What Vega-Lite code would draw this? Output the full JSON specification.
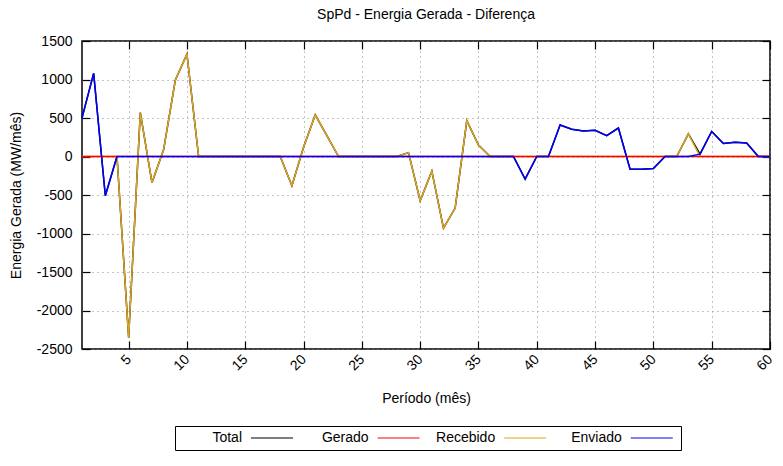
{
  "$schema": "https://vega.github.io/schema/vega-lite/v6.json",
  "width": 688,
  "height": 308,
  "autosize": {"type": "none"},
  "padding": {"left": 82, "top": 41, "right": 13, "bottom": 117},
  "background": "white",
  "config": {
    "font": "Liberation Sans",
    "view": {"stroke": "black", "strokeWidth": 1.5},
    "axis": {"labelFont": "Liberation Sans", "titleFont": "Liberation Sans", "labelFontSize": 14, "titleFontSize": 14, "titleFontWeight": "normal", "labelColor": "black", "titleColor": "black", "domain": false}
  },
  "title": {"text": "SpPd - Energia Gerada - Diferença", "fontSize": 14, "fontWeight": "normal", "font": "Liberation Sans", "frame": "group", "anchor": "middle", "offset": 12, "color": "black"},
  "data": {"values": [
    {"p": 1, "Total": 500, "Gerado": 0, "Recebido": 0, "Enviado": 500},
    {"p": 2, "Total": 1080, "Gerado": 0, "Recebido": 0, "Enviado": 1080},
    {"p": 3, "Total": -510, "Gerado": 0, "Recebido": 0, "Enviado": -510},
    {"p": 4, "Total": 0, "Gerado": 0, "Recebido": 0, "Enviado": 0},
    {"p": 5, "Total": -2350, "Gerado": 0, "Recebido": -2350, "Enviado": 0},
    {"p": 6, "Total": 570, "Gerado": 0, "Recebido": 570, "Enviado": 0},
    {"p": 7, "Total": -340, "Gerado": 0, "Recebido": -340, "Enviado": 0},
    {"p": 8, "Total": 90, "Gerado": 0, "Recebido": 90, "Enviado": 0},
    {"p": 9, "Total": 990, "Gerado": 0, "Recebido": 990, "Enviado": 0},
    {"p": 10, "Total": 1330, "Gerado": 0, "Recebido": 1330, "Enviado": 0},
    {"p": 11, "Total": 0, "Gerado": 0, "Recebido": 0, "Enviado": 0},
    {"p": 12, "Total": 0, "Gerado": 0, "Recebido": 0, "Enviado": 0},
    {"p": 13, "Total": 0, "Gerado": 0, "Recebido": 0, "Enviado": 0},
    {"p": 14, "Total": 0, "Gerado": 0, "Recebido": 0, "Enviado": 0},
    {"p": 15, "Total": 0, "Gerado": 0, "Recebido": 0, "Enviado": 0},
    {"p": 16, "Total": 0, "Gerado": 0, "Recebido": 0, "Enviado": 0},
    {"p": 17, "Total": 0, "Gerado": 0, "Recebido": 0, "Enviado": 0},
    {"p": 18, "Total": 0, "Gerado": 0, "Recebido": 0, "Enviado": 0},
    {"p": 19, "Total": -380, "Gerado": 0, "Recebido": -380, "Enviado": 0},
    {"p": 20, "Total": 120, "Gerado": 0, "Recebido": 120, "Enviado": 0},
    {"p": 21, "Total": 540, "Gerado": 0, "Recebido": 540, "Enviado": 0},
    {"p": 22, "Total": 270, "Gerado": 0, "Recebido": 270, "Enviado": 0},
    {"p": 23, "Total": 0, "Gerado": 0, "Recebido": 0, "Enviado": 0},
    {"p": 24, "Total": 0, "Gerado": 0, "Recebido": 0, "Enviado": 0},
    {"p": 25, "Total": 0, "Gerado": 0, "Recebido": 0, "Enviado": 0},
    {"p": 26, "Total": 0, "Gerado": 0, "Recebido": 0, "Enviado": 0},
    {"p": 27, "Total": 0, "Gerado": 0, "Recebido": 0, "Enviado": 0},
    {"p": 28, "Total": 0, "Gerado": 0, "Recebido": 0, "Enviado": 0},
    {"p": 29, "Total": 50, "Gerado": 0, "Recebido": 50, "Enviado": 0},
    {"p": 30, "Total": -575, "Gerado": 0, "Recebido": -575, "Enviado": 0},
    {"p": 31, "Total": -190, "Gerado": 0, "Recebido": -190, "Enviado": 0},
    {"p": 32, "Total": -930, "Gerado": 0, "Recebido": -930, "Enviado": 0},
    {"p": 33, "Total": -670, "Gerado": 0, "Recebido": -670, "Enviado": 0},
    {"p": 34, "Total": 465, "Gerado": 0, "Recebido": 465, "Enviado": 0},
    {"p": 35, "Total": 150, "Gerado": 0, "Recebido": 150, "Enviado": 0},
    {"p": 36, "Total": 0, "Gerado": 0, "Recebido": 0, "Enviado": 0},
    {"p": 37, "Total": 0, "Gerado": 0, "Recebido": 0, "Enviado": 0},
    {"p": 38, "Total": 0, "Gerado": 0, "Recebido": 0, "Enviado": 0},
    {"p": 39, "Total": -295, "Gerado": 0, "Recebido": 0, "Enviado": -295},
    {"p": 40, "Total": 0, "Gerado": 0, "Recebido": 0, "Enviado": 0},
    {"p": 41, "Total": 0, "Gerado": 0, "Recebido": 0, "Enviado": 0},
    {"p": 42, "Total": 410, "Gerado": 0, "Recebido": 0, "Enviado": 410},
    {"p": 43, "Total": 355, "Gerado": 0, "Recebido": 0, "Enviado": 355},
    {"p": 44, "Total": 330, "Gerado": 0, "Recebido": 0, "Enviado": 330},
    {"p": 45, "Total": 340, "Gerado": 0, "Recebido": 0, "Enviado": 340},
    {"p": 46, "Total": 270, "Gerado": 0, "Recebido": 0, "Enviado": 270},
    {"p": 47, "Total": 370, "Gerado": 0, "Recebido": 0, "Enviado": 370},
    {"p": 48, "Total": -165, "Gerado": 0, "Recebido": 0, "Enviado": -165},
    {"p": 49, "Total": -165, "Gerado": 0, "Recebido": 0, "Enviado": -165},
    {"p": 50, "Total": -155, "Gerado": 0, "Recebido": 0, "Enviado": -155},
    {"p": 51, "Total": 0, "Gerado": 0, "Recebido": 0, "Enviado": 0},
    {"p": 52, "Total": 0, "Gerado": 0, "Recebido": 0, "Enviado": 0},
    {"p": 53, "Total": 295, "Gerado": 0, "Recebido": 295, "Enviado": 0},
    {"p": 54, "Total": 30, "Gerado": 0, "Recebido": 0, "Enviado": 30},
    {"p": 55, "Total": 325, "Gerado": 0, "Recebido": 0, "Enviado": 325},
    {"p": 56, "Total": 170, "Gerado": 0, "Recebido": 0, "Enviado": 170},
    {"p": 57, "Total": 185, "Gerado": 0, "Recebido": 0, "Enviado": 185},
    {"p": 58, "Total": 175, "Gerado": 0, "Recebido": 0, "Enviado": 175},
    {"p": 59, "Total": 0, "Gerado": 0, "Recebido": 0, "Enviado": 0},
    {"p": 60, "Total": 0, "Gerado": 0, "Recebido": 0, "Enviado": 0}
  ]},
  "transform": [
    {"fold": ["Total", "Gerado", "Recebido", "Enviado"], "as": ["serie", "v"]}
  ],
  "encoding": {
    "color": {
      "field": "serie", "type": "nominal",
      "scale": {"domain": ["Total", "Gerado", "Recebido", "Enviado"], "range": ["#000000", "#ff0000", "#daa520", "#0000ff"]},
      "legend": {
        "title": null, "orient": "none", "legendX": 93, "legendY": 385,
        "direction": "horizontal", "columns": 4, "symbolType": "M-10.5,0H10.5", "symbolSize": 16, "symbolStrokeWidth": 1.2,
        "symbolOffset": 85,
        "labelAlign": "right", "labelOffset": -37, "labelFontSize": 14, "labelFont": "Liberation Sans", "labelColor": "black",
        "strokeColor": "black", "padding": 5, "columnPadding": 10.6, "gridAlign": "all"
      }
    }
  },
  "layer": [
    {
      "transform": [{"filter": "datum.serie === 'Total'"}],
      "mark": {"type": "line", "strokeWidth": 1.5},
      "encoding": {
        "x": {"field": "p", "type": "quantitative", "scale": {"domain": [1, 60], "nice": false, "zero": false},
              "axis": {"title": "Período (mês)", "values": [5,10,15,20,25,30,35,40,45,50,55,60], "labelAngle": -45, "labelAlign": "right", "labelBaseline": "middle", "tickSize": -8, "tickColor": "black", "tickWidth": 1.2, "labelPadding": 16, "grid": true, "gridColor": "#888888", "gridDash": [1, 4], "gridWidth": 1, "titlePadding": 19}},
        "y": {"field": "v", "type": "quantitative", "scale": {"domain": [-2500, 1500], "nice": false},
              "axis": {"title": "Energia Gerada (MW/mês)", "labelExpr": "'' + datum.value", "values": [-2500,-2000,-1500,-1000,-500,0,500,1000,1500], "tickSize": -8, "tickColor": "black", "tickWidth": 1.2, "labelPadding": 18, "grid": true, "gridColor": "#888888", "gridDash": [1, 4], "gridWidth": 1, "titlePadding": 13}}
      }
    },
    {
      "transform": [{"filter": "datum.serie === 'Recebido'"}],
      "mark": {"type": "line", "strokeWidth": 1.5},
      "encoding": {
        "x": {"field": "p", "type": "quantitative", "axis": null},
        "y": {"field": "v", "type": "quantitative", "axis": null}
      }
    },
    {
      "transform": [{"filter": "datum.serie === 'Gerado'"}],
      "mark": {"type": "line", "strokeWidth": 1.5},
      "encoding": {
        "x": {"field": "p", "type": "quantitative", "axis": null},
        "y": {"field": "v", "type": "quantitative", "axis": null}
      }
    },
    {
      "transform": [{"filter": "datum.serie === 'Enviado'"}],
      "mark": {"type": "line", "strokeWidth": 1.5},
      "encoding": {
        "x": {"field": "p", "type": "quantitative", "axis": null},
        "y": {"field": "v", "type": "quantitative", "axis": null}
      }
    },
    {
      "transform": [{"filter": "datum.serie === 'Gerado'"}],
      "mark": {"type": "line", "opacity": 0},
      "encoding": {
        "x": {"field": "p", "type": "quantitative", "axis": {"orient": "top", "title": null, "labels": false, "grid": false, "values": [5,10,15,20,25,30,35,40,45,50,55,60], "tickSize": -8, "tickColor": "black", "tickWidth": 1.2}},
        "y": {"field": "v", "type": "quantitative", "axis": {"orient": "right", "title": null, "labels": false, "grid": false, "values": [-2500,-2000,-1500,-1000,-500,0,500,1000,1500], "tickSize": -8, "tickColor": "black", "tickWidth": 1.2}}
      }
    }
  ],
  "resolve": {"axis": {"x": "independent", "y": "independent"}}
}
